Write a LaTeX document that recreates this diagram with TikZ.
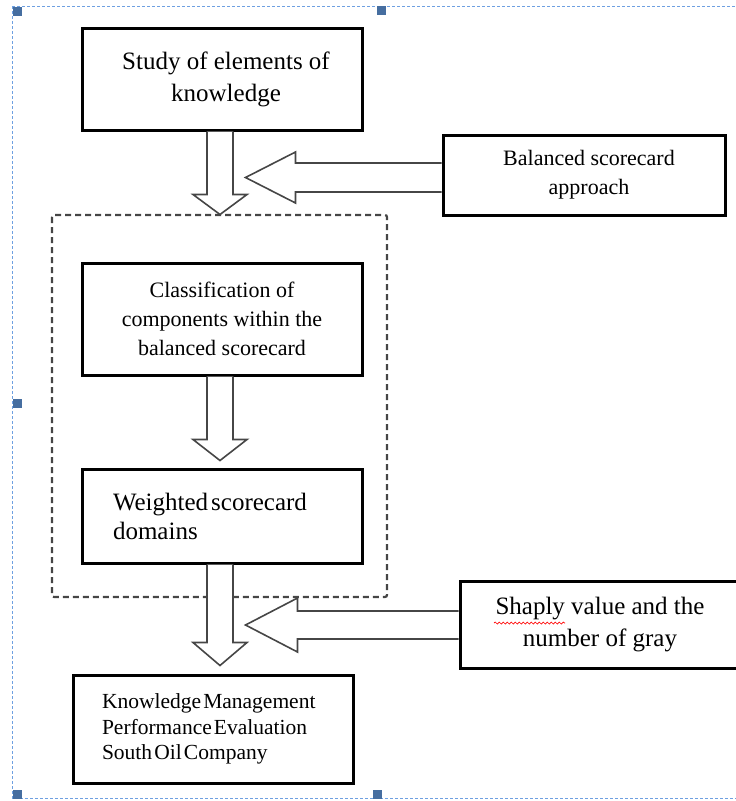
\documentclass[tikz,border=0pt]{standalone}
\usepackage{fontspec}
\setmainfont{Liberation Serif}
\usetikzlibrary{calc,decorations.pathmorphing}
\definecolor{selblue}{RGB}{110,160,225}
\definecolor{handleblue}{RGB}{70,110,160}
\definecolor{arrowgray}{RGB}{70,70,70}
\definecolor{groupgray}{RGB}{70,70,70}
\tikzset{
  box/.style={draw=black, line width=3pt, fill=white, inner ysep=0pt, minimum width=280pt},
  barrow/.style={draw=arrowgray, line width=1.6pt, fill=white, line join=miter},
  groupframe/.style={draw=groupgray, line width=2.2pt, dash pattern=on 6pt off 4pt, rounded corners=2pt},
  selframe/.style={draw=selblue, line width=1pt, dash pattern=on 3pt off 2pt},
  handle/.style={fill=handleblue, draw=none, minimum size=9pt, inner sep=0pt},
}
\begin{document}
\begin{tikzpicture}[x=1pt,y=1pt]
\useasboundingbox (0,0) rectangle (736,-801);
\clip (0,0) rectangle (736,-801);
% selection frame of the drawing canvas
\draw[selframe] (12,-6) -- (745,-6);
\draw[selframe] (12,-6) -- (12,-798) -- (745,-798);
\node[handle] (h1) at (17,-11) {};
\node[handle] (h2) at (381,-10) {};
\node[handle] (h3) at (17,-403) {};
\node[handle] (h4) at (17,-794) {};
\node[handle] (h5) at (377,-794) {};
% dashed group
\draw[groupframe] (52,-215) rectangle (387,-597);
% boxes
\node[box, minimum height=102pt, align=center, font=\fontsize{25}{32}\selectfont]
  (study) at (222,-79) {\spaceskip=0.25em plus 0.05em\hspace*{8pt}Study of elements of\\\hspace*{8pt}knowledge};
\node[box, minimum width=282pt, minimum height=80pt, align=center, font=\fontsize{22}{29}\selectfont]
  (balanced) at (584,-175) {\spaceskip=0.25em plus 0.05em\hspace*{10pt}Balanced scorecard\\\hspace*{10pt}approach};
\node[box, minimum height=112pt, align=center, font=\fontsize{22}{29}\selectfont]
  (classif) at (222,-319) {\spaceskip=0.25em plus 0.05em Classification of\\components within the\\balanced scorecard};
\node[box, minimum height=94pt, text width=218pt, inner xsep=31pt, align=left, font=\fontsize{25}{29}\selectfont]
  (weighted) at (222,-516) {\spaceskip=0.12em plus 0.02em Weighted scorecard\\domains};
\node[box, minimum height=87pt, align=center, font=\fontsize{25}{32}\selectfont]
  (shaply) at (600,-624.5) {\spaceskip=0.25em plus 0.05em Shaply value and the\\number of gray};
\node[box, minimum height=108pt, text width=222pt, inner xsep=29pt, align=left, font=\fontsize{21.5}{25.5}\selectfont]
  (km) at (213,-729) {\spaceskip=0.1em plus 0.02em Knowledge Management\\Performance Evaluation\\South Oil Company};
% spell-check underline
\coordinate (sq1) at (494,-623);
\coordinate (sq2) at (565,-623);
\draw[red, line width=0.7pt, decorate, decoration={snake, amplitude=1pt, segment length=4pt}] (sq1) -- (sq2);
% block arrows down
\draw[barrow] ($(study.south)+(-15,0)$) -- ++(0,-63) -- ++(-14,0) -- ++(27,-20) -- ++(27,20) -- ++(-14,0) -- ++(0,63);
\draw[barrow] ($(classif.south)+(-15,0)$) -- ++(0,-63) -- ++(-14,0) -- ++(27,-21) -- ++(27,21) -- ++(-14,0) -- ++(0,63);
\draw[barrow] ($(weighted.south)+(-15,0)$) -- ++(0,-78) -- ++(-14,0) -- ++(27,-23) -- ++(27,23) -- ++(-14,0) -- ++(0,78);
% block arrows left
\draw[barrow] ($(balanced.west)+(0,12)$) -- ++(-146,0) -- ++(0,11) -- ++(-50,-25.5) -- ++(50,-25.5) -- ++(0,11) -- ++(146,0);
\draw[barrow] ($(shaply.west)+(0,13.5)$) -- ++(-161,0) -- ++(0,13) -- ++(-52,-27) -- ++(52,-27) -- ++(0,13) -- ++(161,0);
\end{tikzpicture}
\end{document}
